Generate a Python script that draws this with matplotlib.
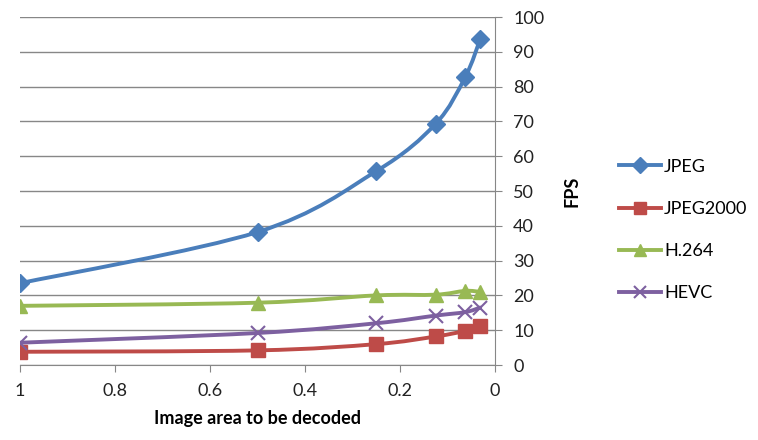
import numpy as np
import matplotlib.pyplot as plt
from matplotlib.path import Path
from matplotlib.patches import PathPatch
from matplotlib.lines import Line2D
from matplotlib.ticker import FuncFormatter

plt.rcParams['font.family'] = ['Lato', 'DejaVu Sans']

area = [1, 0.5, 0.25, 0.125, 0.0625, 0.03125]
jpeg = [23.5, 38.2, 55.7, 69.3, 82.8, 93.6]
jpeg2000 = [3.8, 4.2, 6.0, 8.2, 9.8, 11.1]
h264 = [17.0, 17.9, 20.0, 20.2, 21.3, 21.0]
hevc = [6.4, 9.2, 12.0, 14.2, 15.2, 16.5]

names = ['JPEG', 'JPEG2000', 'H.264', 'HEVC']
series = [jpeg, jpeg2000, h264, hevc]
colors = ['#4A7EBB', '#BE4B48', '#98B954', '#7D60A0']
markers = ['D', 's', '^', 'x']
msizes = [9, 10, 10, 10]


def smooth_path(x, y):
    # bezier segments through the points, like the spreadsheet "smoothed line"
    p = np.column_stack([x, y]).astype(float)
    n = len(p)
    verts = [p[0]]
    codes = [Path.MOVETO]
    for i in range(n - 1):
        p0 = p[i - 1] if i > 0 else p[i]
        p3 = p[i + 2] if i + 2 < n else p[i + 1]
        c1 = p[i] + (p[i + 1] - p0) / 6
        c2 = p[i + 1] - (p3 - p[i]) / 6
        verts += [c1, c2, p[i + 1]]
        codes += [Path.CURVE4] * 3
    return Path(verts, codes)


fig = plt.figure(figsize=(7.58, 4.40), dpi=100)
ax = fig.add_axes([20 / 758, 75 / 440, 475 / 758, 348 / 440])

handles = []
for name, vals, c, m, ms in zip(names, series, colors, markers, msizes):
    ax.add_patch(PathPatch(smooth_path(area, vals), fill=False, edgecolor=c,
                           lw=2.8, capstyle='round', joinstyle='round', zorder=3))
    if m == 'x':
        ax.plot(area, vals, ls='none', marker=m, ms=ms, mew=1.5, color=c, zorder=4)
    else:
        ax.plot(area, vals, ls='none', marker=m, ms=ms, mfc=c, mec=c, zorder=4)
    handles.append(Line2D([], [], color=c, lw=2.8, marker=m, ms=ms - 1,
                          mew=1.5 if m == 'x' else 1))

ax.set_xlim(1, 0)
ax.set_ylim(0, 100)
ax.set_xticks([1, 0.8, 0.6, 0.4, 0.2, 0])
ax.xaxis.set_major_formatter(FuncFormatter(lambda v, p: f'{v:g}'))
ax.set_yticks(range(0, 101, 10))
ax.yaxis.tick_right()
ax.yaxis.set_label_position('right')
ax.grid(axis='y', color='#878787', lw=1)
ax.set_axisbelow(True)
for s in ['left', 'top']:
    ax.spines[s].set_visible(False)
for s in ['right', 'bottom']:
    ax.spines[s].set_color('#878787')
ax.tick_params(axis='both', colors='#878787', length=5, labelsize=13,
               labelcolor='#222222', direction='out')
ax.tick_params(axis='x', pad=8)
ax.tick_params(axis='y', pad=8)

ax.set_xlabel('Image area to be decoded', fontsize=13, fontweight='bold', labelpad=8)
ax.set_ylabel('FPS', fontsize=13, fontweight='bold', labelpad=14)

fig.legend(handles, names, loc='center left', bbox_to_anchor=(619 / 758, 210 / 440),
           frameon=False, fontsize=13, handlelength=2.3, labelspacing=1.45,
           handletextpad=0.2, borderaxespad=0, borderpad=0)

fig.savefig('out.png', dpi=100)
